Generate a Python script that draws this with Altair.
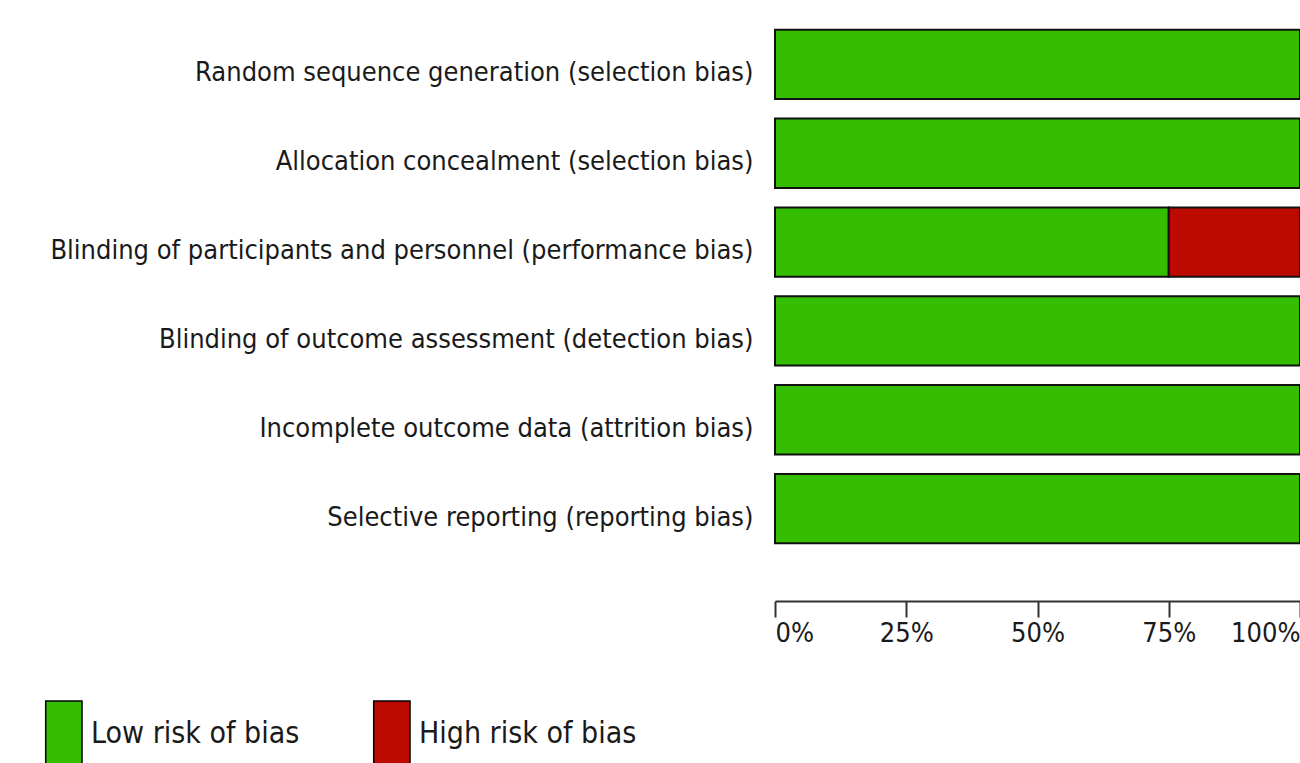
import altair as alt
import pandas as pd

domains = [
    "Random sequence generation (selection bias)",
    "Allocation concealment (selection bias)",
    "Blinding of participants and personnel (performance bias)",
    "Blinding of outcome assessment (detection bias)",
    "Incomplete outcome data (attrition bias)",
    "Selective reporting (reporting bias)",
]
low_risk = [100, 100, 75, 100, 100, 100]
high_risk = [0, 0, 25, 0, 0, 0]
categories = ["Low risk of bias", "High risk of bias"]
colors = ["#35BE00", "#BC0A00"]
x_ticks = [0, 25, 50, 75, 100]

rows = []
for d, lo, hi in zip(domains, low_risk, high_risk):
    rows.append({"domain": d, "risk": categories[0], "pct": lo, "ord": 0})
    rows.append({"domain": d, "risk": categories[1], "pct": hi, "ord": 1})
df = pd.DataFrame(rows)

FONT = "DejaVu Sans Condensed"

chart = alt.Chart(df).mark_bar(stroke="#111111", strokeWidth=2).encode(
    y=alt.Y(
        "domain:N",
        sort=domains,
        scale=alt.Scale(paddingInner=0.22, paddingOuter=0.11),
        axis=alt.Axis(
            title=None, ticks=False, domain=False,
            labelFontSize=27, labelFont=FONT, labelColor="#1a1a1a",
            labelPadding=22, labelLimit=800, labelOffset=9,
        ),
    ),
    x=alt.X(
        "pct:Q",
        stack="zero",
        scale=alt.Scale(domain=[0, 100], nice=False),
        axis=alt.Axis(
            title=None, values=x_ticks, labelExpr="datum.value + '%'",
            grid=False, offset=48, tickSize=16, tickWidth=2, tickColor="#333333",
            domainColor="#333333", domainWidth=2,
            labelFontSize=27, labelFont=FONT, labelColor="#1a1a1a",
            labelPadding=3, labelFlush=True,
        ),
    ),
    color=alt.Color(
        "risk:N",
        scale=alt.Scale(domain=categories, range=colors),
        legend=alt.Legend(
            title=None, orient="none", direction="horizontal",
            legendX=-760, legendY=680,
            symbolType="M-0.1,-1H1V1H-0.1Z", symbolSize=4356,
            symbolStrokeColor="black", symbolStrokeWidth=1.5,
            labelFontSize=30, labelFont=FONT, labelColor="#1a1a1a",
            labelOffset=8, columnPadding=43, labelLimit=400,
        ),
    ),
    order=alt.Order("ord:Q"),
).properties(
    width=525,
    height=533,
    autosize=alt.AutoSizeParams(type="none"),
    padding={"left": 775, "top": 20, "right": 0, "bottom": 210},
).configure_view(stroke=None)

chart.save("out.html", embed_options={"renderer": "svg", "actions": False})
